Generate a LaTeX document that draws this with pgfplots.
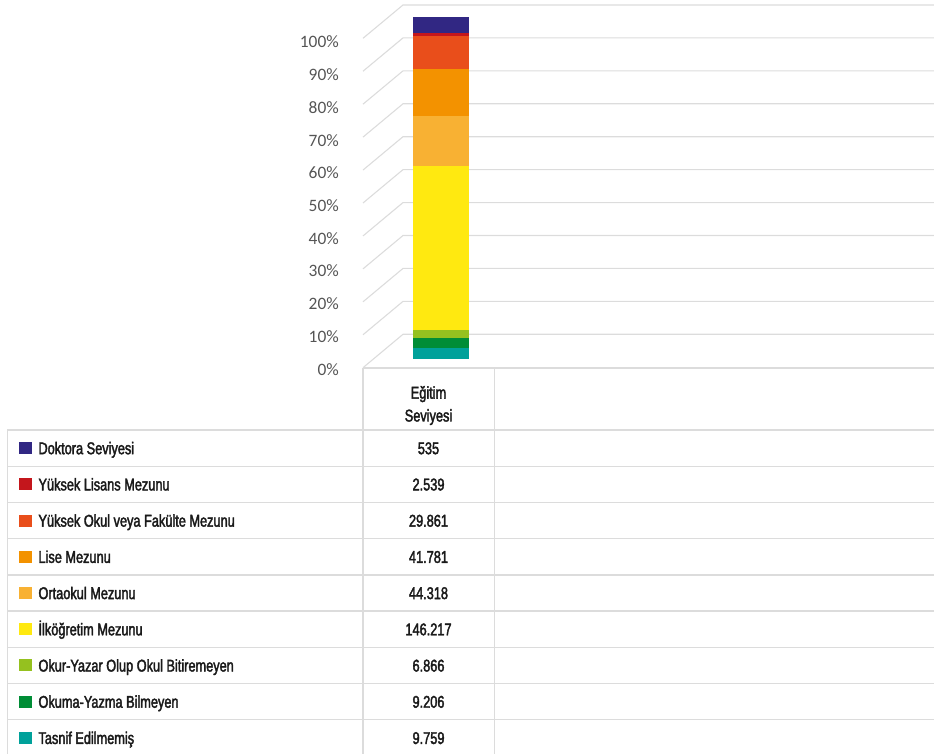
\documentclass[border=0pt]{standalone}
\usepackage{fontspec}
\usepackage{pgfplots}
\pgfplotsset{compat=1.18}
\setmainfont{Liberation Sans}
\newfontfamily\tabfont[FakeStretch=0.75,FakeBold=2.2]{Liberation Sans}
\newfontfamily\tickfont{Carlito}
\definecolor{cDok}{HTML}{312783}
\definecolor{cYL}{HTML}{C4161C}
\definecolor{cYO}{HTML}{E94E1B}
\definecolor{cLise}{HTML}{F39200}
\definecolor{cOrta}{HTML}{F8B133}
\definecolor{cIlk}{HTML}{FFE910}
\definecolor{cOkur}{HTML}{95C11F}
\definecolor{cOkuma}{HTML}{008D36}
\definecolor{cTas}{HTML}{00A19A}
\definecolor{gridc}{HTML}{DCDCDC}
\definecolor{tickc}{HTML}{555555}
\definecolor{txtc}{HTML}{1A1A1A}
\begin{document}
\begin{tikzpicture}[x=1pt,y=1pt]
\useasboundingbox (0,0) rectangle (934,754);
% back-wall grid of the 3-D chart
\foreach \k in {0,...,10}{
  \pgfmathsetmacro\fy{754-(367.7-32.94*\k)}
  \pgfmathsetmacro\by{754-(334.3-32.93*\k)}
  \draw[gridc, line width=1.1pt] (363,\fy) -- (403,\by) -- (934,\by);
}
% value axis labels
\begin{axis}[at={(339pt,384.7pt)}, anchor=south west, scale only axis,
  width=20pt, height=327.3pt, xmin=0, xmax=1, ymin=0, ymax=100,
  xtick=\empty, ytick={0,10,...,100},
  yticklabels={0\%,10\%,20\%,30\%,40\%,50\%,60\%,70\%,80\%,90\%,100\%},
  axis line style={draw=none}, major tick length=0pt,
  yticklabel style={font=\tickfont\fontsize{17.4}{20}\selectfont, text=tickc, anchor=east, inner sep=0pt}]
\end{axis}
% stacked 100% bar
\begin{axis}[at={(413pt,395pt)}, anchor=south west, scale only axis,
  width=56pt, height=326.6pt, xmin=-0.5, xmax=0.5, ymin=0, ymax=100,
  hide axis, clip=false, ybar stacked, bar width=56pt]
\addplot[fill=cTas, draw=none] coordinates {(0,3.3527)};
\addplot[fill=cOkuma, draw=none] coordinates {(0,3.1627)};
\addplot[fill=cOkur, draw=none] coordinates {(0,2.3588)};
\addplot[fill=cIlk, draw=none] coordinates {(0,50.2322)};
\addplot[fill=cOrta, draw=none] coordinates {(0,15.2253)};
\addplot[fill=cLise, draw=none] coordinates {(0,14.3537)};
\addplot[fill=cYO, draw=none] coordinates {(0,10.2586)};
\addplot[fill=cYL, draw=none] coordinates {(0,0.8723)};
\addplot[fill=cDok, draw=none] coordinates {(0,0.1838)};
% top face of the 3-D column
\fill[cDok] (axis cs:-0.5,99.8) rectangle (axis cs:0.5,104.8);
\end{axis}
% data table grid
\draw[gridc, line width=1.3pt] (363,754-368) -- (934,754-368);
\draw[gridc, line width=1.3pt] (363,754-368) -- (363,0);
\draw[gridc, line width=1.3pt] (494.5,754-368) -- (494.5,0);
\draw[gridc, line width=1.3pt] (7.3,754-430) -- (7.3,0);
\foreach \i in {0,...,8}{
  \pgfmathsetmacro\ly{754-(430+36.22*\i)}
  \draw[gridc, line width=1.3pt] (7.3,\ly) -- (934,\ly);
}
% header
\node[anchor=base, inner sep=0pt, text=txtc, font=\tabfont\fontsize{17}{20}\selectfont] at (428.5,754-398.6) {Eğitim};
\node[anchor=base, inner sep=0pt, text=txtc, font=\tabfont\fontsize{17}{20}\selectfont] at (428.5,754-421.5) {Seviyesi};
% rows
\foreach \nm/\num/\col [count=\i from 0] in {
  Doktora Seviyesi/535/cDok,
  Yüksek Lisans Mezunu/2.539/cYL,
  Yüksek Okul veya Fakülte Mezunu/29.861/cYO,
  Lise Mezunu/41.781/cLise,
  Ortaokul Mezunu/44.318/cOrta,
  İlköğretim Mezunu/146.217/cIlk,
  Okur-Yazar Olup Okul Bitiremeyen/6.866/cOkur,
  Okuma-Yazma Bilmeyen/9.206/cOkuma,
  Tasnif Edilmemiş/9.759/cTas}{
  \pgfmathsetmacro\cy{754-(448.1+36.22*\i)}
  \fill[\col] (19,\cy-6) rectangle (32,\cy+6);
  \node[anchor=base west, inner sep=0pt, text=txtc, font=\tabfont\fontsize{17}{20}\selectfont] at (38.3,\cy-6.1) {\nm};
  \node[anchor=base, inner sep=0pt, text=txtc, font=\tabfont\fontsize{17}{20}\selectfont] at (428.5,\cy-6.1) {\num};
}
\end{tikzpicture}
\end{document}
